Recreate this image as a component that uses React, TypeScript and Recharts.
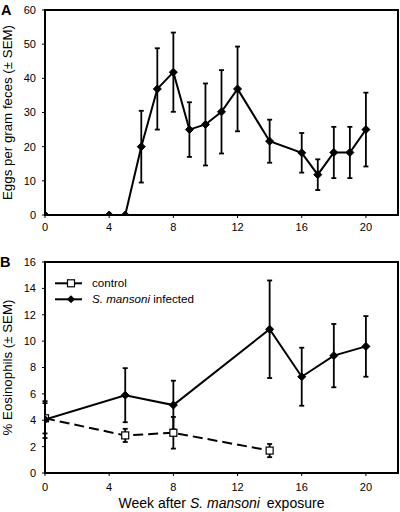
import React from 'react';
import { LineChart, Line, XAxis, YAxis, ErrorBar, ReferenceArea, Customized } from 'recharts';

const FONT = '"Liberation Sans", Arial, Helvetica, sans-serif';

// Shared x ticks
const weekTicks = [0, 4, 8, 12, 16, 20];

// Panel A: eggs per gram feces
const eggWeeks = [0, 4, 5, 6, 7, 8, 9, 10, 11, 12, 14, 16, 17, 18, 19, 20];
const eggMeans = [0, 0, 0, 20, 36.9, 41.8, 25, 26.5, 30.2, 36.9, 21.6, 18.2, 11.8, 18.3, 18.3, 25];
const eggSem = [0, 0, 0, 10.5, 11.9, 11.6, 8, 12, 12.2, 12.4, 6.3, 5.8, 4.5, 7.5, 7.5, 10.8];
const eggTicks = [0, 10, 20, 30, 40, 50, 60];

// Panel B: % eosinophils
const infWeeks = [0, 5, 8, 14, 16, 18, 20];
const infMeans = [4.05, 5.9, 5.15, 10.9, 7.3, 8.9, 9.6];
const infSem = [1.4, 2.05, 1.85, 3.7, 2.2, 2.4, 2.3];
const ctlWeeks = [0, 5, 8, 14];
const ctlMeans = [4.15, 2.85, 3.05, 1.7];
const ctlSem = [1.15, 0.5, 1.2, 0.5];
const eosTicks = [0, 2, 4, 6, 8, 10, 12, 14, 16];

const eggData = eggWeeks.map((w, i) => ({ week: w, mean: eggMeans[i], sem: eggSem[i] }));
const infData = infWeeks.map((w, i) => ({ week: w, mean: infMeans[i], sem: infSem[i] }));
const ctlData = ctlWeeks.map((w, i) => ({ week: w, mean: ctlMeans[i], sem: ctlSem[i] }));

const tickStyle = { fontSize: 11, fill: '#000', fontFamily: FONT };

const DiamondDot = (props: any) => {
  const { cx, cy, index } = props;
  if (cx == null || cy == null) return <g key={`dd-${index}`} />;
  const r = 4;
  return (
    <polygon
      key={`dd-${index}`}
      points={`${cx},${cy - r} ${cx + r},${cy} ${cx},${cy + r} ${cx - r},${cy}`}
      fill="#000"
      stroke="#000"
      strokeWidth={1}
    />
  );
};

const SquareDot = (props: any) => {
  const { cx, cy, index } = props;
  if (cx == null || cy == null) return <g key={`sd-${index}`} />;
  const r = 3.5;
  return (
    <rect
      key={`sd-${index}`}
      x={cx - r}
      y={cy - r}
      width={2 * r}
      height={2 * r}
      fill="#fff"
      stroke="#000"
      strokeWidth={1.2}
    />
  );
};

const makeYLabel = (text: string) => (props: any) => {
  const vb = props.viewBox || { x: 0, y: 0, width: 45, height: 200 };
  const cx = (vb.x || 0) + 12;
  const cy = vb.y + vb.height / 2;
  return (
    <text
      x={cx}
      y={cy}
      transform={`rotate(-90 ${cx} ${cy})`}
      textAnchor="middle"
      fontSize={13.3}
      fill="#000"
      fontFamily={FONT}
    >
      {text}
    </text>
  );
};

const XLabelB = (props: any) => {
  const vb = props.viewBox || { x: 45, y: 223, width: 353, height: 39 };
  const x = vb.x + vb.width / 2;
  const y = vb.y + 34.5;
  return (
    <text x={x} y={y} textAnchor="middle" fontSize={14} fill="#000" fontFamily={FONT}>
      Week after <tspan fontStyle="italic">S. mansoni</tspan>
      <tspan dx={3}> exposure</tspan>
    </text>
  );
};

const LetterA = () => (
  <text x={1} y={15} fontSize={14.5} fontWeight="bold" fill="#000" fontFamily={FONT}>
    A
  </text>
);

const LetterAndLegendB = () => (
  <g fontFamily={FONT}>
    <text x={0} y={17} fontSize={14.5} fontWeight="bold" fill="#000">
      B
    </text>
    <line x1={55} y1={33.3} x2={82} y2={33.3} stroke="#000" strokeWidth={2} />
    <rect x={67.5} y={29.8} width={7} height={7} fill="#fff" stroke="#000" strokeWidth={1.2} />
    <text x={92} y={33.3} dy="0.35em" fontSize={11.6} fill="#000">
      control
    </text>
    <line x1={55} y1={49.3} x2={82} y2={49.3} stroke="#000" strokeWidth={2} />
    <polygon points="71,45.3 75,49.3 71,53.3 67,49.3" fill="#000" />
    <text x={92} y={49.3} dy="0.35em" fontSize={11.6} fill="#000">
      <tspan fontStyle="italic">S. mansoni</tspan> infected
    </text>
  </g>
);

export default function App() {
  return (
    <div
      style={{
        position: 'absolute',
        left: 0,
        top: 0,
        width: 400,
        height: 512,
        background: '#fff',
        fontFamily: FONT,
      }}
    >
      <div style={{ position: 'absolute', left: 0, top: 0 }}>
        <LineChart width={400} height={235} margin={{ top: 10, right: 2, left: 0, bottom: 0 }}>
          <XAxis
            dataKey="week"
            type="number"
            domain={[0, 22]}
            ticks={weekTicks}
            allowDataOverflow
            height={20}
            tick={tickStyle}
            tickSize={3}
            tickMargin={5}
            axisLine={{ stroke: '#000', strokeWidth: 2 }}
            tickLine={{ stroke: '#000', strokeWidth: 1 }}
          />
          <YAxis
            type="number"
            domain={[0, 60]}
            ticks={eggTicks}
            allowDataOverflow
            width={45}
            tick={tickStyle}
            tickSize={3}
            tickMargin={6}
            axisLine={{ stroke: '#000', strokeWidth: 2 }}
            tickLine={{ stroke: '#000', strokeWidth: 1 }}
            label={makeYLabel('Eggs per gram feces (\u00b1 SEM)')}
          />
          <ReferenceArea x1={0} x2={22} y1={0} y2={60} fill="none" stroke="#000" strokeWidth={2} />
          <Line
            data={eggData}
            dataKey="mean"
            stroke="#000"
            strokeWidth={2}
            dot={DiamondDot}
            activeDot={false}
            isAnimationActive={false}
          >
            <ErrorBar dataKey="sem" direction="y" width={2.5} stroke="#000" strokeWidth={1.8} isAnimationActive={false} />
          </Line>
          <Customized component={LetterA} />
        </LineChart>
      </div>
      <div style={{ position: 'absolute', left: 0, top: 250 }}>
        <LineChart width={400} height={262} margin={{ top: 12, right: 2, left: 0, bottom: 0 }}>
          <XAxis
            dataKey="week"
            type="number"
            domain={[0, 22]}
            ticks={weekTicks}
            allowDataOverflow
            height={39}
            tick={tickStyle}
            tickSize={3}
            tickMargin={7}
            axisLine={{ stroke: '#000', strokeWidth: 2 }}
            tickLine={{ stroke: '#000', strokeWidth: 1 }}
            label={XLabelB}
          />
          <YAxis
            type="number"
            domain={[0, 16]}
            ticks={eosTicks}
            allowDataOverflow
            width={45}
            tick={tickStyle}
            tickSize={3}
            tickMargin={6}
            axisLine={{ stroke: '#000', strokeWidth: 2 }}
            tickLine={{ stroke: '#000', strokeWidth: 1 }}
            label={makeYLabel('% Eosinophils (\u00b1 SEM)')}
          />
          <ReferenceArea x1={0} x2={22} y1={0} y2={16} fill="none" stroke="#000" strokeWidth={2} />
          <Line
            data={ctlData}
            dataKey="mean"
            stroke="#000"
            strokeWidth={2}
            strokeDasharray="10 5"
            dot={SquareDot}
            activeDot={false}
            isAnimationActive={false}
          >
            <ErrorBar dataKey="sem" direction="y" width={2.5} stroke="#000" strokeWidth={1.8} isAnimationActive={false} />
          </Line>
          <Line
            data={infData}
            dataKey="mean"
            stroke="#000"
            strokeWidth={2}
            dot={DiamondDot}
            activeDot={false}
            isAnimationActive={false}
          >
            <ErrorBar dataKey="sem" direction="y" width={2.5} stroke="#000" strokeWidth={1.8} isAnimationActive={false} />
          </Line>
          <Customized component={LetterAndLegendB} />
        </LineChart>
      </div>
    </div>
  );
}
